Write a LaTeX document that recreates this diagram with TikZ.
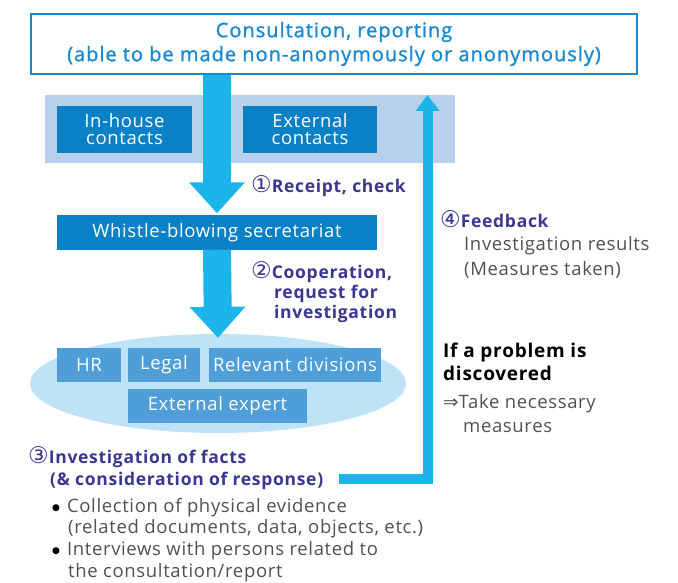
\documentclass[tikz,border=0pt]{standalone}
\usepackage{fontspec}
\setmainfont{Open Sans}
\newfontfamily\osb[LetterSpace=3.5]{Open Sans}
\newfontfamily\osl[LetterSpace=4]{Open Sans}
\newfontfamily\ost[LetterSpace=5,FakeBold=1.2]{Open Sans}
\newfontfamily\symf{DejaVu Sans}
\usetikzlibrary{arrows.meta,shapes.geometric,calc}
\definecolor{topblue}{HTML}{1A8AD0}
\definecolor{arrowcyan}{HTML}{1BB5EA}
\definecolor{darkbox}{HTML}{0A80C6}
\definecolor{bandc}{HTML}{B9D0EA}
\definecolor{ellc}{HTML}{BEE2F6}
\definecolor{midbox}{HTML}{4F9ED8}
\definecolor{purp}{HTML}{3A3790}
\definecolor{graytxt}{HTML}{505050}
\newcommand\ftop{\ost\fontsize{20}{24}\selectfont}
\newcommand\fbody{\osb\fontsize{18.5}{22}\selectfont}
\newcommand\flab{\osl\fontsize{17.5}{21}\selectfont\bfseries}
\newcommand\fprob{\osl\fontsize{19}{23}\selectfont\bfseries}
\newcommand\circnum[1]{{\symf\mdseries\fontsize{23}{23}\selectfont #1}}
\newcommand\bul{\textcolor{black}{\raisebox{1.5pt}{\symf\fontsize{9}{9}\selectfont ●}}\hspace{7pt}}
\begin{document}
\begin{tikzpicture}[x=1pt,y=-1pt,
  darkb/.style={fill=darkbox,text=white,font=\fbody,inner sep=0,align=center},
  midb/.style={fill=midbox,text=white,font=\fbody,inner sep=0,align=center},
  fat/.style={draw=arrowcyan,line width=28pt,-{Triangle[width=54pt,length=31pt]}},
  fbarrow/.style={draw=arrowcyan,line width=10pt,-{Triangle[width=23pt,length=16pt]}},
  lab/.style={anchor=base west,inner sep=0,text=purp,font=\flab},
  gtxt/.style={anchor=base west,inner sep=0,text=graytxt,font=\fbody},
  btxt/.style={anchor=base west,inner sep=0,text=black,font=\fprob},
]
\useasboundingbox (0,0) rectangle (678,583);
% band and ellipse
\node[fill=bandc,minimum width=410,minimum height=68,inner sep=0] (band) at (250,129) {};
\node[ellipse,fill=ellc,minimum width=376,minimum height=99,inner sep=0] (ell) at (218,383.5) {};
% top box
\node[draw=topblue,line width=2pt,fill=white,minimum width=606,minimum height=60,inner sep=0,
  text=topblue,font=\ftop,align=center] (top) at (334,44) {Consultation, reporting\\(able to be made non-anonymously or anonymously)};
% contact boxes
\node[darkb,minimum width=135,minimum height=47] (inh) at (124.5,129.5) {In-house\\[-5pt]contacts};
\node[darkb,minimum width=134,minimum height=47] (ext) at (310,129.5) {External\\[-5pt]contacts};
\node[darkb,minimum width=320,minimum height=34] (sec) at (217,232.5) {Whistle-blowing secretariat};
% divisions
\node[midb,minimum width=64,minimum height=34] (hr) at (89,364.5) {HR};
\node[midb,minimum width=72,minimum height=34] (legal) at (164,364.5) {Legal};
\node[midb,minimum width=172,minimum height=34] (rel) at (295,364.5) {Relevant divisions};
\node[midb,minimum width=179,minimum height=34] (expert) at (217.5,405.5) {External expert};
% fat arrows
\draw[fat] (top.south -| sec.north) -- ($(sec.north)+(0,-2)$);
\draw[fat] (sec.south) -- ($(ell.north)+(0,4)$);
% labels
\node[lab] (l1) at (251,193) {\circnum{①}Receipt, check};
\node[lab] (l2a) at (251,278) {\circnum{②}Cooperation,};
\node[lab] (l2b) at (274,298) {request for};
\node[lab] (l2c) at (274,318) {investigation};
\node[lab] (l4) at (440,227) {\circnum{④}Feedback};
\node[gtxt] (f1) at (464,251) {Investigation results};
\node[gtxt] (f2) at (464,275) {(Measures taken)};
\node[btxt] (p1) at (443,357) {If a problem is};
\node[btxt] (p2) at (443,380) {discovered};
\node[gtxt] (m1) at (443,408) {{\symf ⇒}Take necessary};
\node[gtxt] (m2) at (463,432) {measures};
\node[lab] (l3a) at (28,463) {\circnum{③}Investigation of facts};
\node[lab] (l3b) at (50,485) {(\&~consideration of response)};
\node[gtxt] (b1) at (52,512) {\bul Collection of physical evidence};
\node[gtxt] (b1b) at (68,533) {(related documents, data, objects, etc.)};
\node[gtxt] (b2) at (52,555) {\bul Interviews with persons related to};
\node[gtxt] (b2b) at (68,577) {the consultation/report};
% feedback arrow
\coordinate (fbstart) at (339,478.5);
\coordinate (fbend) at (427.5,95);
\draw[fbarrow] (fbstart) -| (fbend);
\end{tikzpicture}
\end{document}
